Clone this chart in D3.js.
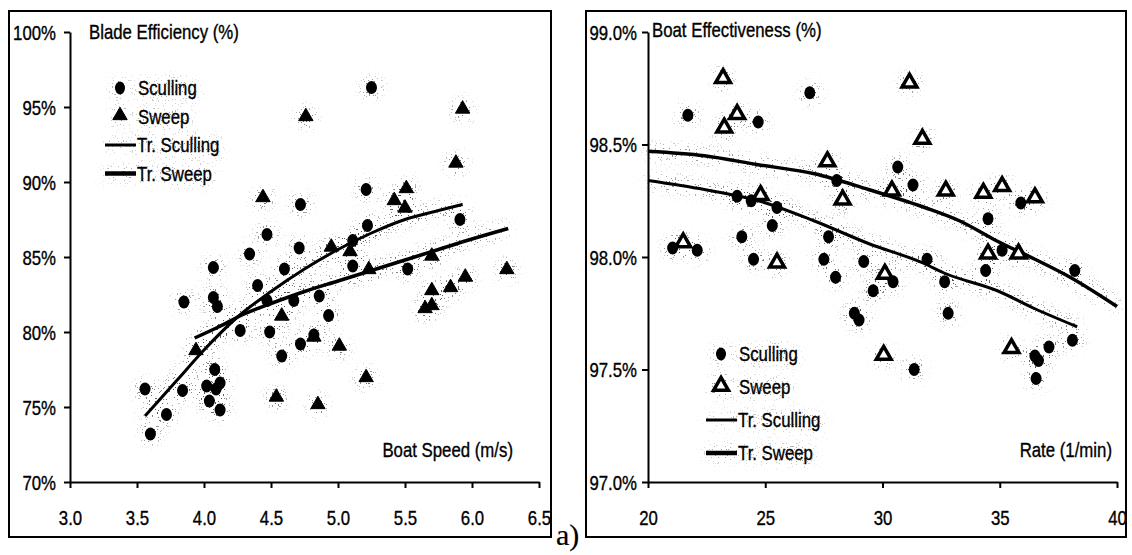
<!DOCTYPE html>
<html>
<head>
<meta charset="utf-8">
<script src="https://cdn.jsdelivr.net/npm/d3@7"></script>
<style>
  html, body { margin: 0; padding: 0; background: #fff; }
  svg { display: block; }
  text { font-family: 'Liberation Sans', Arial, sans-serif; fill: #000; stroke: #000; stroke-width: 0.35px; }
</style>
</head>
<body>
<svg id="chart" width="1132" height="555"></svg>
<script>
// ---- Blade efficiency vs boat speed ----
const speedTicks = [3.0, 3.5, 4.0, 4.5, 5.0, 5.5, 6.0, 6.5];
const bladeTicks = [70, 75, 80, 85, 90, 95, 100];

const bladeSculling = [
  [5.25, 96.3], [5.21, 89.5], [4.72, 88.5], [5.22, 87.1], [5.91, 87.5], [4.47, 86.5],
  [5.11, 86.1], [4.34, 85.2], [4.71, 85.6], [4.07, 84.3], [4.60, 84.2], [5.11, 84.4],
  [5.52, 84.2], [4.40, 83.1], [3.85, 82.0], [4.07, 82.3], [4.10, 81.7], [4.47, 82.1],
  [4.67, 82.1], [4.86, 82.4], [4.93, 81.1], [4.27, 80.1], [4.49, 80.0], [4.72, 79.2],
  [4.82, 79.8], [4.58, 78.4], [4.08, 77.5], [4.12, 76.6], [4.02, 76.4], [4.09, 76.2],
  [3.56, 76.2], [3.84, 76.1], [4.04, 75.4], [4.12, 74.8], [3.72, 74.5], [3.60, 73.2]
];
const bladeSweep = [
  [4.76, 94.3], [5.93, 94.8], [5.88, 91.2], [4.44, 88.9], [5.42, 88.7], [5.51, 89.5],
  [5.50, 88.2], [4.95, 85.6], [5.09, 85.3], [5.70, 85.0], [5.95, 83.6], [6.26, 84.1],
  [5.23, 84.1], [5.70, 82.7], [5.84, 82.9], [5.65, 81.5], [5.70, 81.7], [4.58, 81.0],
  [4.82, 79.6], [5.01, 79.0], [3.94, 78.7], [5.21, 76.9], [4.54, 75.6], [4.85, 75.1]
];
const bladeTrendSculling = [
  [3.56, 74.4], [3.80, 76.8], [4.00, 78.8], [4.25, 81.0], [4.50, 82.7], [4.75, 84.2],
  [5.00, 85.5], [5.25, 86.6], [5.50, 87.5], [5.75, 88.1], [5.93, 88.5]
];
const bladeTrendSweep = [
  [3.93, 79.6], [4.10, 80.3], [4.30, 81.2], [4.50, 81.9], [4.75, 82.7], [5.00, 83.4],
  [5.25, 84.1], [5.50, 84.8], [5.75, 85.5], [6.00, 86.2], [6.27, 86.9]
];

// ---- Boat effectiveness vs stroke rate ----
const rateTicks = [20, 25, 30, 35, 40];
const boatTicks = [97.0, 97.5, 98.0, 98.5, 99.0];

const boatSculling = [
  [26.9, 98.73], [21.7, 98.63], [24.7, 98.60], [30.65, 98.40], [31.3, 98.32], [28.05, 98.34],
  [23.8, 98.27], [24.4, 98.25], [25.5, 98.22], [34.5, 98.17], [35.9, 98.24], [25.3, 98.14],
  [24.0, 98.09], [27.7, 98.09], [21.05, 98.04], [22.1, 98.03], [35.1, 98.03], [24.5, 97.99],
  [27.5, 97.99], [29.2, 97.98], [31.9, 97.99], [34.4, 97.94], [38.2, 97.94], [28.0, 97.91],
  [30.45, 97.89], [32.65, 97.89], [29.6, 97.85], [28.8, 97.75], [29.0, 97.72], [32.8, 97.75],
  [38.1, 97.63], [37.1, 97.60], [36.5, 97.56], [36.65, 97.54], [36.55, 97.46], [31.35, 97.50]
];
const boatSweep = [
  [23.2, 98.79], [31.15, 98.77], [23.8, 98.63], [23.25, 98.57], [31.7, 98.52], [27.65, 98.42],
  [30.4, 98.29], [32.7, 98.29], [34.3, 98.28], [35.1, 98.31], [36.5, 98.26], [24.8, 98.27],
  [28.3, 98.25], [21.5, 98.06], [25.5, 97.97], [34.5, 98.01], [35.8, 98.01], [30.1, 97.92],
  [30.05, 97.56], [35.5, 97.59]
];
const boatTrendSweep = [
  [20, 98.47], [22.4, 98.45], [24.7, 98.41], [27.1, 98.37], [29.4, 98.30], [31.8, 98.22],
  [33.3, 98.16], [34.9, 98.07], [36.5, 97.99], [38.0, 97.91], [40, 97.78]
];
const boatTrendSculling = [
  [20, 98.34], [22.4, 98.30], [24.7, 98.25], [27.1, 98.16], [29.4, 98.06], [31.8, 97.97],
  [32.6, 97.93], [34.9, 97.85], [36.5, 97.77], [38.3, 97.69]
];

const legendLabels = ["Sculling", "Sweep", "Tr. Sculling", "Tr. Sweep"];

const NARROW = 0.84;   // horizontal squeeze for the condensed lettering
const svg = d3.select("#chart");

// halftone-like grey grain around printed marks
const defs = svg.append("defs");
const f = defs.append("filter").attr("id", "grain")
  .attr("x", "-40%").attr("y", "-40%").attr("width", "180%").attr("height", "180%");
f.append("feGaussianBlur").attr("in", "SourceAlpha").attr("stdDeviation", 7).attr("result", "blur");
f.append("feComponentTransfer").attr("in", "blur").attr("result", "spread")
  .append("feFuncA").attr("type", "linear").attr("slope", 2.6).attr("intercept", 0);
f.append("feTurbulence").attr("type", "fractalNoise").attr("baseFrequency", 0.65)
  .attr("numOctaves", 1).attr("seed", 7).attr("result", "noise");
f.append("feColorMatrix").attr("in", "noise").attr("type", "matrix")
  .attr("values", "0 0 0 0 0  0 0 0 0 0  0 0 0 0 0  1 0 0 0 0").attr("result", "na");
f.append("feComponentTransfer").attr("in", "na").attr("result", "dots")
  .append("feFuncA").attr("type", "discrete").attr("tableValues", "0 0 0 0 1 1");
f.append("feComposite").attr("in", "dots").attr("in2", "spread").attr("operator", "in").attr("result", "sp");
f.append("feFlood").attr("flood-color", "#555").attr("result", "ink");
f.append("feComposite").attr("in", "ink").attr("in2", "sp").attr("operator", "in");

function label(parent, x, y, txt, anchor) {
  parent.append("g").attr("transform", `translate(${x},${y}) scale(${NARROW},1)`)
    .append("text").attr("dy", "0.35em").attr("text-anchor", anchor || "start")
    .style("font-size", "20px").text(txt);
}

function panel(cfg) {
  const g = svg.append("g");
  g.append("rect")
    .attr("x", cfg.frame[0]).attr("y", cfg.frame[1])
    .attr("width", cfg.frame[2]).attr("height", cfg.frame[3])
    .attr("fill", "none").attr("stroke", "#000").attr("stroke-width", 2);

  const x = d3.scaleLinear().domain(cfg.xDomain).range(cfg.xRange);
  const y = d3.scaleLinear().domain(cfg.yDomain).range(cfg.yRange);
  const lineGen = d3.line().x(d => x(d[0])).y(d => y(d[1])).curve(d3.curveMonotoneX);
  const tri = d3.symbol().type(d3.symbolTriangle).size(cfg.hollow ? 95 : 90);

  // grain layer behind the marks
  const grain = g.append("g").attr("filter", "url(#grain)");
  [cfg.trendScull, cfg.trendSweep].forEach(t => {
    grain.append("path").attr("d", lineGen(t)).attr("fill", "none")
      .attr("stroke", "#000").attr("stroke-width", 5);
  });
  cfg.scull.concat(cfg.sweep).forEach(d => {
    grain.append("circle").attr("cx", x(d[0])).attr("cy", y(d[1])).attr("r", 7).attr("fill", "#000");
  });

  // trend lines
  g.append("path").attr("d", lineGen(cfg.trendScull)).attr("fill", "none")
    .attr("stroke", "#000").attr("stroke-width", 3);
  g.append("path").attr("d", lineGen(cfg.trendSweep)).attr("fill", "none")
    .attr("stroke", "#000").attr("stroke-width", 3.5);

  // points
  g.append("g").selectAll("path").data(cfg.sweep).join("path")
    .attr("d", tri)
    .attr("transform", d => `translate(${x(d[0])},${y(d[1]) - 1})`)
    .attr("fill", cfg.hollow ? "#fff" : "#000")
    .attr("stroke", "#000").attr("stroke-width", cfg.hollow ? 3.5 : 1);
  g.append("g").selectAll("ellipse").data(cfg.scull).join("ellipse")
    .attr("cx", d => x(d[0])).attr("cy", d => y(d[1]))
    .attr("rx", 5.5).attr("ry", 6.5).attr("fill", "#000");

  // axes
  const yAxis = d3.axisLeft(y).tickValues(cfg.yTicks).tickSize(6).tickSizeOuter(0)
    .tickFormat(cfg.yFormat);
  const xAxis = d3.axisBottom(x).tickValues(cfg.xTicks).tickSize(6).tickSizeOuter(0)
    .tickFormat(cfg.xFormat);
  const ya = g.append("g").attr("transform", `translate(${cfg.xRange[0]},0)`).call(yAxis);
  const xa = g.append("g").attr("transform", `translate(0,${cfg.yRange[0]})`).call(xAxis);
  [ya, xa].forEach(a => {
    a.select(".domain").attr("stroke", "#000").attr("stroke-width", 2);
    a.selectAll(".tick line").attr("stroke", "#000").attr("stroke-width", 2);
    a.selectAll("text").style("font-size", "20px").attr("fill", "#000")
      .style("font-family", "'Liberation Sans', Arial, sans-serif");
  });
  ya.selectAll("text").attr("x", cfg.yLabelGap / NARROW).attr("dy", "0.35em")
    .attr("transform", `scale(${NARROW},1)`);
  xa.selectAll("text").attr("y", 36).attr("dy", "0.35em")
    .attr("transform", `scale(${NARROW},1)`);

  // titles
  label(g, cfg.title[1], cfg.title[2], cfg.title[0]);
  label(g, cfg.xTitle[1], cfg.xTitle[2], cfg.xTitle[0], "end");

  // legend
  const lg = g.append("g").attr("transform", `translate(${cfg.legend[0]},${cfg.legend[1]})`);
  const step = cfg.legend[2];
  const drawLegend = (root, grainMode) => {
    root.append("ellipse").attr("cx", 0).attr("cy", 0).attr("rx", 5).attr("ry", 6.5).attr("fill", "#000");
    root.append("path").attr("d", tri).attr("transform", `translate(0,${step - 1})`)
      .attr("fill", cfg.hollow && !grainMode ? "#fff" : "#000").attr("stroke", "#000").attr("stroke-width", cfg.hollow ? 3.5 : 1);
    root.append("line").attr("x1", -15).attr("x2", 16).attr("y1", step * 2).attr("y2", step * 2)
      .attr("stroke", "#000").attr("stroke-width", 3);
    root.append("line").attr("x1", -15).attr("x2", 16).attr("y1", step * 3).attr("y2", step * 3)
      .attr("stroke", "#000").attr("stroke-width", 4.5);
    legendLabels.forEach((t, i) => label(root, i < 2 ? 18 : 17, i * step, t));
  };
  drawLegend(lg.append("g").attr("filter", "url(#grain)"), true);
  drawLegend(lg, false);
}

panel({
  frame: [9, 11, 542, 526],
  xDomain: [3.0, 6.5], xRange: [70, 539],
  yDomain: [70, 100], yRange: [482, 32],
  xTicks: speedTicks, yTicks: bladeTicks,
  xFormat: d3.format(".1f"), yFormat: d => d + "%",
  yLabelGap: -14,
  scull: bladeSculling, sweep: bladeSweep,
  trendScull: bladeTrendSculling, trendSweep: bladeTrendSweep,
  hollow: false,
  title: ["Blade Efficiency (%)", 89, 32],
  xTitle: ["Boat Speed (m/s)", 513, 450],
  legend: [120, 88, 28.5]
});

panel({
  frame: [586, 11, 540, 526],
  xDomain: [20, 40], xRange: [648, 1117],
  yDomain: [97, 99], yRange: [482, 32],
  xTicks: rateTicks, yTicks: boatTicks,
  xFormat: d3.format("d"), yFormat: d => d3.format(".1f")(d) + "%",
  yLabelGap: -11,
  scull: boatSculling, sweep: boatSweep,
  trendScull: boatTrendSculling, trendSweep: boatTrendSweep,
  hollow: true,
  title: ["Boat Effectiveness (%)", 652, 30],
  xTitle: ["Rate (1/min)", 1112, 450],
  legend: [721, 354, 33]
});

// panel tag
svg.append("text").attr("x", 556).attr("y", 545)
  .style("font-family", "'Liberation Serif', 'DejaVu Serif', serif")
  .style("stroke-width", "0.2px")
  .style("font-size", "30px").text("a)");
</script>
</body>
</html>
